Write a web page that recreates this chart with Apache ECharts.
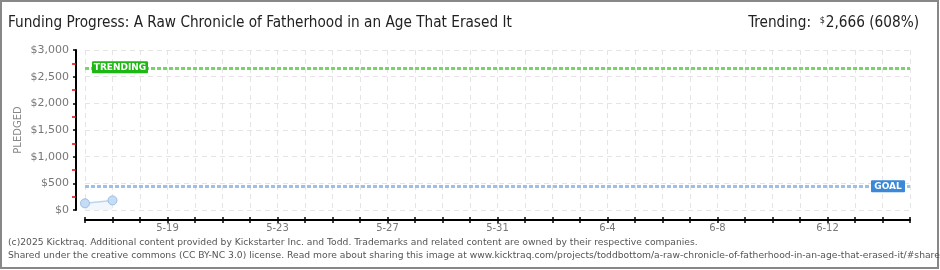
<!DOCTYPE html>
<html><head><meta charset="utf-8">
<script src="https://cdn.jsdelivr.net/npm/echarts@6/dist/echarts.min.js"></script>
<style>html,body{margin:0;padding:0;background:#fff}#c{width:940px;height:270px}</style>
</head><body><div id="c"></div>
<script>
const titleText = "Funding Progress: A Raw Chronicle of Fatherhood in an Age That Erased It";
const dates = ["5-16","5-17","5-18","5-19","5-20","5-21","5-22","5-23","5-24","5-25","5-26","5-27","5-28","5-29","5-30","5-31","6-1","6-2","6-3","6-4","6-5","6-6","6-7","6-8","6-9","6-10","6-11","6-12","6-13","6-14","6-15"];
const pledged = [125, 180];
const goal = 438;
const trending = 2666;
const trendingPct = 608;
const footer1 = "(c)2025 Kicktraq. Additional content provided by Kickstarter Inc. and Todd. Trademarks and related content are owned by their respective companies.";
const footer2 = "Shared under the creative commons (CC BY-NC 3.0) license. Read more about sharing this image at www.kicktraq.com/projects/toddbottom/a-raw-chronicle-of-fatherhood-in-an-age-that-erased-it/#share";

const chart = echarts.init(document.getElementById('c'), null, {renderer: 'canvas'});
const fmt = v => '$' + v.toLocaleString('en-US');
const labelInt = (i) => (i - 3) % 4 === 0;
const gray = '#777';
const tFont = 'DejaVu Sans Condensed';

chart.setOption({
  animation: false,
  backgroundColor: '#fff',
  grid: {left: 85, right: 30, top: 50, bottom: 60},
  xAxis: [{
    type: 'category', data: dates, boundaryGap: false, offset: 10,
    axisLine: {onZero: false, lineStyle: {color: '#000', width: 2}},
    axisTick: {show: true, length: 3, interval: 0, lineStyle: {color: '#000', width: 1.5}},
    axisLabel: {interval: (i) => labelInt(i), color: gray, fontSize: 10, fontFamily: 'DejaVu Sans', margin: 3},
    splitLine: {show: true, interval: 0, lineStyle: {color: '#e4e4e4', type: [5, 4]}}
  }, {
    type: 'category', data: dates, boundaryGap: false, offset: 10, position: 'bottom',
    axisLine: {show: false, onZero: false},
    axisTick: {show: true, inside: true, length: 3, interval: 0, lineStyle: {color: '#000', width: 1.5}},
    axisLabel: {show: false}, splitLine: {show: false}
  }],
  yAxis: {
    type: 'value', min: 0, max: 3000, interval: 500, offset: 9,
    name: 'PLEDGED', nameLocation: 'middle', nameGap: 53, nameRotate: 90, nameMoveOverlap: false,
    nameTextStyle: {color: '#888', fontSize: 10, fontFamily: 'DejaVu Sans'},
    axisLine: {show: true, onZero: false, lineStyle: {color: '#000', width: 2}},
    axisTick: {show: true, length: 3, lineStyle: {color: '#000', width: 1.5}},
    minorTick: {show: true, splitNumber: 2, length: 4, lineStyle: {color: '#e00', width: 1.5}},
    axisLabel: {formatter: fmt, color: gray, fontSize: 11, fontFamily: 'DejaVu Sans', margin: 7},
    splitLine: {show: true, lineStyle: {color: '#e4e4e4', type: [5, 4]}}
  },
  title: [{
    text: titleText, left: 3, top: 11,
    textStyle: {fontFamily: tFont, fontSize: 15.2, fontWeight: 'normal', color: '#222'}
  }, {
    text: '{a|Trending:  }{b|$}{c|' + trending.toLocaleString('en-US') + ' (' + trendingPct + '%)}', right: 16, top: 11,
    textStyle: {fontWeight: 'normal', rich: {
      a: {fontFamily: tFont, fontSize: 15.2, fontWeight: 'normal', color: '#222'},
      b: {fontFamily: tFont, fontSize: 9, fontWeight: 'normal', color: '#222', verticalAlign: 'top', padding: [0, 1, 6, 0]},
      c: {fontFamily: tFont, fontSize: 15.2, fontWeight: 'normal', color: '#222'}
    }}
  }],
  series: [{
    type: 'line', data: pledged, xAxisIndex: 0,
    symbol: 'circle', symbolSize: 9,
    itemStyle: {color: '#c4dcf5', borderColor: '#9dbde4', borderWidth: 1},
    lineStyle: {color: '#bcd4ef', width: 1.5},
    areaStyle: {color: '#edf4fc'},
    markLine: {
      silent: true, symbol: 'none',
      data: [
        {yAxis: trending, lineStyle: {color: '#77d466', width: 3, type: [4, 2]}, label: {show: false}},
        {yAxis: goal, lineStyle: {color: '#9dc0e8', width: 3, type: [4, 2]}, label: {show: false}}
      ]
    }
  }]
});

function drawLabels() {
  const tY = chart.convertToPixel({yAxisIndex: 0}, trending);
  const gY = chart.convertToPixel({yAxisIndex: 0}, goal);
  const x0 = chart.convertToPixel({xAxisIndex: 0}, dates[0]);
  const x1 = chart.convertToPixel({xAxisIndex: 0}, dates[dates.length - 1]);
  chart.setOption({graphic: [
    {type: 'rect', shape: {x: 1, y: 1, width: 937, height: 267}, style: {fill: 'none', stroke: '#888', lineWidth: 2}, silent: true},
    {type: 'rect', shape: {x: x0 + 7, y: tY - 6.5, width: 56, height: 12, r: 1}, style: {fill: '#1eb814'}, z: 10},
    {type: 'text', x: x0 + 35, y: tY, style: {text: 'TRENDING', fill: '#fff', font: 'bold 9px DejaVu Sans', align: 'center', verticalAlign: 'middle'}, z: 11},
    {type: 'rect', shape: {x: x1 - 39, y: gY - 6.5, width: 34, height: 12, r: 1}, style: {fill: '#3b88d8'}, z: 10},
    {type: 'text', x: x1 - 22, y: gY, style: {text: 'GOAL', fill: '#fff', font: 'bold 9px DejaVu Sans', align: 'center', verticalAlign: 'middle'}, z: 11},
    {type: 'text', x: 8, y: 238, style: {text: footer1, fill: '#555', font: '9.2px DejaVu Sans'}},
    {type: 'text', x: 8, y: 251, style: {text: footer2, fill: '#555', font: '9.2px DejaVu Sans'}}
  ]});
}
drawLabels();
</script></body></html>
